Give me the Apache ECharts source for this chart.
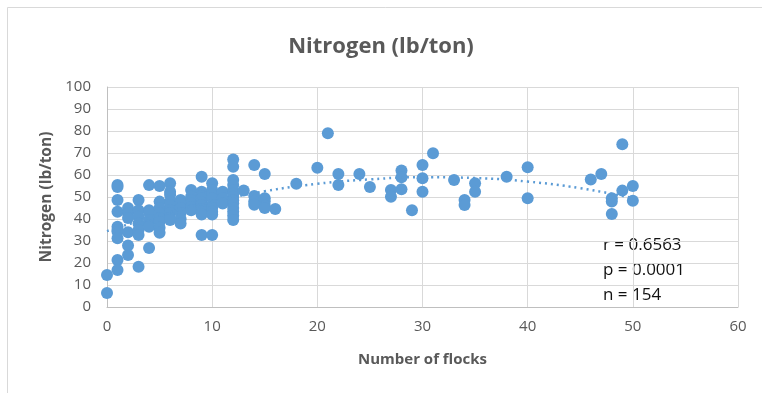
<!DOCTYPE html>
<html>
<head>
<meta charset="utf-8">
<script src="https://cdn.jsdelivr.net/npm/echarts@6/dist/echarts.min.js"></script>
<style>
html,body{margin:0;padding:0;background:#fff;}
#chart{width:762px;height:393px;}
</style>
</head>
<body>
<div id="chart"></div>
<script>
// Scatter data: [number of flocks, nitrogen lb/ton]
const flocksX = [
  0,0,
  1,1,1,1,1,1,1,1,1,1,
  2,2,2,2,2,2,
  3,3,3,3,3,3,3,
  4,4,4,4,4,4,4,
  5,5,5,5,5,5,5,5,
  6,6,6,6,6,6,6,6,6,
  7,7,7,7,7,7,
  8,8,8,8,8,8,
  9,9,9,9,9,9,9,9,9,9,
  10,10,10,10,10,10,10,10,10,
  11,11,11,
  12,12,12,12,12,12,12,12,12,12,12,12,12,
  13,
  14,14,14,14,
  15,15,15,15,15,
  16,18,20,21,22,22,24,25,27,27,28,28,28,29,30,30,30,31,33,34,34,35,35,38,40,40,
  46,47,48,48,48,49,49,50,50
];
const nitrogenY = [
  14.5,6.4,
  55.5,54.5,48.6,43.3,36.5,35,34.2,31.2,21.4,16.8,
  45,42.5,40.4,34,28,23.6,
  48.6,44,41,38,35,32.7,18.3,
  55.4,44,43,39.5,37,36.5,26.8,
  55,47.9,45,42.6,40.5,38.8,36,33.7,
  56.2,52.4,51,48,46.4,44,42.7,40.5,39.5,
  48.6,47.1,45,42.7,40,38,
  53.2,50.1,48.5,47.1,45.5,44,
  59.2,52.4,50.5,49.4,47.5,46.4,44.5,43.3,42,32.7,
  56.2,53.2,51,49.4,46.4,45,43.3,42,32.7,
  52.4,49.4,47,
  67,63.8,57.7,55.5,53.2,51.5,50.1,48.5,47.1,45,43.3,41.5,39.5,
  53,
  64.5,50.5,48,46.5,
  60.5,49.4,47.9,46,45,
  44.5,56,63.3,79,60.5,55.5,60.5,54.5,53.2,50.1,62,59,53.5,44,64.5,58.5,52.4,69.9,57.7,48.6,46.4,56.2,52.4,59.2,63.5,49.4,
  58,60.5,49.4,48,42.3,74,52.9,55,48.3
];
// Dotted polynomial trendline
const trendX = [0,5,10,15,20,25,30,35,40,45,50];
const trendY = [34.5,41.8,47.8,52.6,56,58,59,58.6,57,54,49.5];

const titleText = 'Nitrogen (lb/ton)';
const xName = 'Number of flocks';
const yName = 'Nitrogen (lb/ton)';
const statLines = ['r = 0.6563','p = 0.0001','n = 154'];

const scatterData = flocksX.map((x,i)=>[x, nitrogenY[i]]);
const trendData = trendX.map((x,i)=>[x, trendY[i]]);

const blue = '#5B9BD5';
const grey = '#595959';
const font = '"Open Sans", "Noto Sans", sans-serif';

const chart = echarts.init(document.getElementById('chart'), null, {renderer:'canvas'});
chart.setOption({
  animation:false,
  backgroundColor:'#fff',
  title:{
    text:titleText, left:'center', top:31,
    textStyle:{fontFamily:font, fontSize:22, fontWeight:'bold', color:grey}
  },
  grid:{left:107, right:24, top:87, bottom:86, containLabel:false},
  xAxis:{
    type:'value', min:0, max:60, interval:10,
    name:xName, nameLocation:'middle', nameGap:45,
    nameTextStyle:{fontFamily:font, fontSize:15, fontWeight:'bold', color:grey},
    axisLine:{show:true, onZero:false, lineStyle:{color:'#bfbfbf', width:1}},
    axisTick:{show:false},
    axisLabel:{fontFamily:font, fontSize:15, color:grey, margin:12},
    splitLine:{show:true, lineStyle:{color:'#d9d9d9', width:1}}
  },
  yAxis:{
    type:'value', min:0, max:100, interval:10,
    name:yName, nameLocation:'middle', nameGap:52, nameRotate:90,
    nameTextStyle:{fontFamily:font, fontSize:15.5, fontWeight:'bold', color:grey},
    axisLine:{show:true, lineStyle:{color:'#bfbfbf', width:1}},
    axisTick:{show:false},
    axisLabel:{fontFamily:font, fontSize:15, color:grey, margin:16},
    splitLine:{show:true, lineStyle:{color:'#d9d9d9', width:1}}
  },
  series:[
    {
      type:'line', data:trendData, smooth:true, symbol:'none', z:3,
      lineStyle:{color:blue, width:2.5, type:[2,4]}
    },
    {
      type:'scatter', data:scatterData, symbol:'circle', symbolSize:12, z:2,
      itemStyle:{color:blue, opacity:1}
    }
  ],
  graphic:[
    {type:'rect', shape:{x:7.5,y:7.5,width:780,height:400}, style:{fill:'none', stroke:'#d9d9d9', lineWidth:1}, silent:true, z:-1},
    {type:'text', left:603, top:237, style:{text:statLines[0], font:'17px "Open Sans", sans-serif', fill:'#111'}},
    {type:'text', left:603, top:262, style:{text:statLines[1], font:'17px "Open Sans", sans-serif', fill:'#111'}},
    {type:'text', left:603, top:287, style:{text:statLines[2], font:'17px "Open Sans", sans-serif', fill:'#111'}}
  ]
});
</script>
</body>
</html>
